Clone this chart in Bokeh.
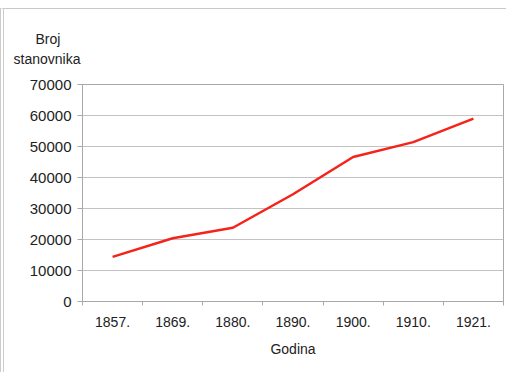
from bokeh.plotting import figure
from bokeh.models import FixedTicker, Title, BasicTickFormatter, Range1d
from bokeh.embed import file_html
from bokeh.resources import INLINE

years = ["1857.", "1869.", "1880.", "1890.", "1900.", "1910.", "1921."]
population = [14400, 20400, 23800, 34600, 46600, 51400, 59000]
y_ticks = [0, 10000, 20000, 30000, 40000, 50000, 60000, 70000]
y_title_lines = ["Broj", "stanovnika"]

xs = [i + 0.5 for i in range(len(years))]

FONT = "Liberation Sans"
GRID = "#c3c3c3"
AXIS = "#a8a8a8"

p = figure(width=506, height=364, output_backend="svg", toolbar_location=None, title=None,
           x_range=Range1d(0, len(years)), y_range=Range1d(0, 70000),
           min_border_left=78, min_border_right=7, min_border_top=75, min_border_bottom=72)
p.styles = {"margin-top": "8px", "margin-left": "0px",
            "border-top": "1px solid #c8c8c8", "border-left": "4px double #cccccc"}
p.background_fill_color = "white"
p.border_fill_color = "white"
p.outline_line_color = AXIS
p.outline_line_width = 1

p.line(xs, population, line_color="#f5231a", line_width=2.5)

# x axis
p.xaxis.ticker = FixedTicker(ticks=xs, minor_ticks=list(range(len(years) + 1)))
p.xaxis.major_label_overrides = {x: lab for x, lab in zip(xs, years)}
p.xaxis.major_tick_line_color = None
p.xaxis.major_tick_out = 0
p.xaxis.major_tick_in = 0
p.xaxis.minor_tick_out = 4
p.xaxis.minor_tick_in = 0
p.xaxis.minor_tick_line_color = AXIS
p.xaxis.axis_line_color = AXIS
p.xaxis.major_label_standoff = 11
p.xaxis.major_label_text_font = FONT
p.xaxis.major_label_text_font_size = "14px"
p.xaxis.major_label_text_color = "#222222"
p.xaxis.axis_label = "Godina"
p.xaxis.axis_label_text_font = FONT
p.xaxis.axis_label_text_font_size = "14px"
p.xaxis.axis_label_text_font_style = "normal"
p.xaxis.axis_label_text_color = "#222222"
p.xaxis.axis_label_standoff = 11

# y axis
p.yaxis.ticker = FixedTicker(ticks=y_ticks)
p.yaxis.formatter = BasicTickFormatter(use_scientific=False)
p.yaxis.major_tick_out = 5
p.yaxis.major_tick_in = 0
p.yaxis.minor_tick_line_color = None
p.yaxis.major_tick_line_color = AXIS
p.yaxis.axis_line_color = AXIS
p.yaxis.major_label_standoff = 6
p.yaxis.major_label_text_font = FONT
p.yaxis.major_label_text_font_size = "15px"
p.yaxis.major_label_text_color = "#222222"

p.xgrid.grid_line_color = None
p.ygrid.grid_line_color = GRID
p.ygrid.ticker = FixedTicker(ticks=y_ticks)

# y-axis title above the axis (first added sits closest to the frame)
p.add_layout(Title(text=" ", text_font=FONT, text_font_size="13px", standoff=0), "above")
p.add_layout(Title(text=y_title_lines[1], align="left", offset=-69, text_font=FONT,
                   text_font_size="14px", text_font_style="normal",
                   text_color="#222222", standoff=2), "above")
p.add_layout(Title(text=y_title_lines[0], align="left", offset=-47, text_font=FONT,
                   text_font_size="14px", text_font_style="normal",
                   text_color="#222222", standoff=2), "above")

open("out.html", "w").write(file_html(p, INLINE))
